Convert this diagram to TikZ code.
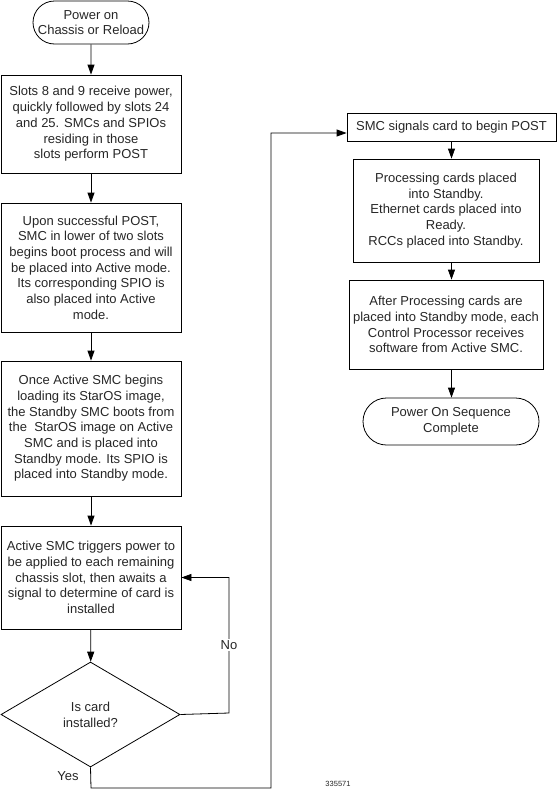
\documentclass[tikz,border=0pt]{standalone}
\usepackage{fontspec}
\setmainfont{Liberation Sans}
\usetikzlibrary{shapes.geometric,shapes.misc,arrows.meta}
\begin{document}
\begin{tikzpicture}[x=1pt,y=1pt,
  txt/.style={align=center, font=\fontsize{13}{15.7}\selectfont, text=black!85},
  stepbox/.style={txt, draw, line width=0.8pt, rectangle, inner sep=2pt},
  term/.style={txt, draw, line width=0.8pt, rounded rectangle, inner sep=2pt},
  decision/.style={txt, draw, line width=0.8pt, diamond, inner sep=0pt},
  conn/.style={line width=0.8pt, -{Triangle[length=10pt,width=7pt]}},
  plain/.style={line width=0.8pt}]
\useasboundingbox (0,0) rectangle (557,-790);

\node[term, minimum width=120, minimum height=43] (start) at (91,-22.5) {Power on\\Chassis or Reload};
\node[stepbox, minimum width=180, minimum height=98] (b1) at (91,-124) {Slots 8 and 9 receive power,\\quickly followed by slots 24\\and 25. SMCs and SPIOs\\residing in those\\slots perform POST};
\node[stepbox, minimum width=180, minimum height=129] (b2) at (91,-267.5) {Upon successful POST,\\SMC in lower of two slots\\begins boot process and will\\be placed into Active mode.\\Its corresponding SPIO is\\also placed into Active\\mode.};
\node[stepbox, minimum width=180, minimum height=135] (b3) at (91,-428.5) {Once Active SMC begins\\loading its StarOS image,\\the Standby SMC boots from\\the \ StarOS image on Active\\SMC and is placed into\\Standby mode. Its SPIO is\\placed into Standby mode.};
\node[stepbox, minimum width=180, minimum height=103] (b4) at (91,-577.5) {Active SMC triggers power to\\be applied to each remaining\\chassis slot, then awaits a\\signal to determine of card is\\installed};
\node[decision, minimum width=179, minimum height=105] (d) at (90.5,-714.5) {Is card\\installed?};

\node[stepbox, minimum width=209, minimum height=28] (b5) at (451.5,-127) {SMC signals card to begin POST};
\node[stepbox, minimum width=186, minimum height=103] (b6) at (446,-210.5) {Processing cards placed\\into Standby.\\Ethernet cards placed into\\Ready.\\RCCs placed into Standby.};
\node[stepbox, minimum width=194, minimum height=89] (b7) at (446,-324.5) {After Processing cards are\\placed into Standby mode, each\\Control Processor receives\\software from Active SMC.};
\node[term, minimum width=180, minimum height=47] (end) at (451,-421.5) {Power On Sequence\\Complete};

\coordinate (nr) at (229,-713);
\coordinate (nu) at (229,-577.5);
\coordinate (yb) at (91,-788);
\coordinate (yr) at (271,-788);
\coordinate (yu) at (271,-133);

\draw[conn] (start) -- (b1);
\draw[conn] (b1) -- (b2);
\draw[conn] (b2) -- (b3);
\draw[conn] (b3) -- (b4);
\draw[conn] (b4) -- (d);
\draw[conn] (d.east) -- (nr) -- (nu) -- (b4.east);
\draw[conn] (d.south) -- (yb) -- (yr) -- (yu) -- (yu -| b5.west);
\draw[conn] (b5.south) -- (b5.south |- b6.north);
\draw[conn] (b6.south -| b5.south) -- (b5.south |- b7.north);
\draw[conn] (b7.south -| b5.south) -- (b5.south |- end.north);

\node[txt, fill=white, inner sep=1pt] (no) at (229,-645) {No};
\node[txt, inner sep=1pt] (yes) at (68,-776) {Yes};
\node[font=\fontsize{7.5}{9}\selectfont, text=black!85] (fig) at (338,-784) {335571};
\end{tikzpicture}
\end{document}
